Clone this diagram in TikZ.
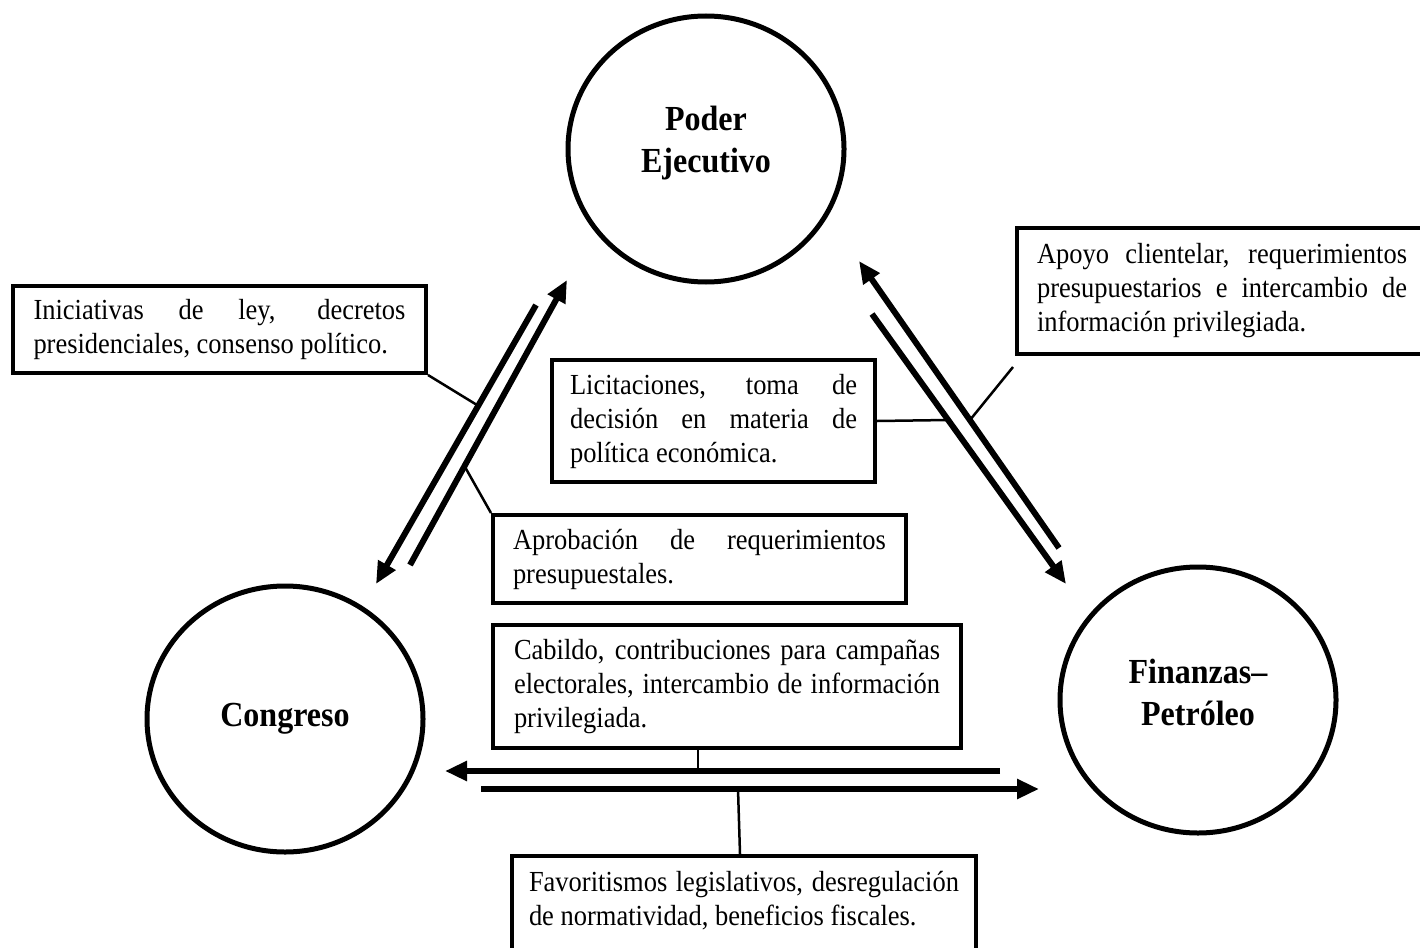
\documentclass[tikz,border=0pt]{standalone}
\usepackage{fontspec}
\setmainfont{Liberation Serif}[FakeStretch=0.91]
\usetikzlibrary{arrows.meta,shapes.geometric,calc}
\newcommand{\bodytext}{\fontsize{29.1}{34}\selectfont\hyphenpenalty 10000 }
\newcommand{\actortext}{\fontsize{35.2}{42}\selectfont\bfseries}
\newcommand{\twolines}[3]{\raisebox{#1}[\height][\depth]{\begin{tabular}{@{}c@{}}#2\\#3\end{tabular}}}
\begin{document}
\begin{tikzpicture}[x=1pt,y=-1pt,
  actor/.style={draw, ellipse, line width=5pt, inner sep=0pt,
    minimum width=276pt, minimum height=266pt, font=\actortext},
  frame/.style={draw, rectangle, line width=4pt, anchor=north west, font=\bodytext},
  note/.style={frame, inner xsep=0pt, align=justify},
  flow/.style={line width=6pt, -{Triangle[length=22pt,width=19pt]}},
  lead/.style={line width=2.5pt}]

% page
\useasboundingbox (0,0) rectangle (1420,947);
\fill[white] (0,0) rectangle (1420,947);

% the three actors
\node[actor] (pe) at (706,149) {\twolines{6pt}{Poder}{Ejecutivo}};
\node[actor] (co) at (285,719) {Congreso};
\node[actor] (fp) at (1198,700) {\twolines{4pt}{Finanzas–}{Petróleo}};

% exchange boxes
\node[note, text width=372pt, minimum width=413pt, minimum height=87pt] (ini) at (11,284)
  {Iniciativas de ley, decretos\linebreak presidenciales, consenso político.};
\node[note, text width=370pt, inner xsep=20pt, minimum height=126pt] (apo) at (1015,226)
  {Apoyo clientelar, requerimientos\linebreak presupuestarios e intercambio de\linebreak información privilegiada.};
\node[note, text width=287pt, minimum width=323pt, minimum height=122pt] (lic) at (550,358)
  {Licitaciones, toma de\linebreak decisión en materia de\linebreak política económica.};
\node[note, text width=373pt, minimum width=413pt, minimum height=88pt] (apr) at (491,513)
  {Aprobación de requerimientos\linebreak presupuestales.};
\node[note, text width=426pt, minimum width=468pt, minimum height=123pt] (cab) at (491,623)
  {Cabildo, contribuciones para campañas\linebreak electorales, intercambio de información\linebreak privilegiada.};
\node[frame, inner ysep=0pt, inner xsep=17pt] (fav) at (510,854)
  {\parbox[t][110pt][t]{430pt}{\vspace{15pt}Favoritismos legislativos, desregulación\linebreak de normatividad, beneficios fiscales.}};

% arrow end points
\coordinate (a1s) at (410,565);  \coordinate (a1e) at (567,280);
\coordinate (a2s) at (536,305);  \coordinate (a2e) at (376,584);
\coordinate (b1s) at (1059,548); \coordinate (b1e) at (859,261);
\coordinate (b2s) at (872,314);  \coordinate (b2e) at (1066,584);
\coordinate (c1s) at (1000,771); \coordinate (c1e) at (445,771);
\coordinate (c2s) at (481,789);  \coordinate (c2e) at (1039,789);

% flows between actors
\draw[flow] (a1s) -- (a1e);
\draw[flow] (a2s) -- (a2e);
\draw[flow] (b1s) -- (b1e);
\draw[flow] (b2s) -- (b2e);
\draw[flow] (c1s) -- (c1e);
\draw[flow] (c2s) -- (c2e);

% leader lines from boxes to flows
\coordinate (l1) at (477,405);
\draw[lead] (ini.south east) -- (l1);
\coordinate (l2) at (465,467);
\draw[lead] (apr.north west) -- (l2);
\coordinate (l3) at (948,420);
\draw[lead] (lic.east) -- (l3);
\coordinate (l4s) at ($(apo.south west)+(-2,11)$);
\coordinate (l4e) at (970,420);
\draw[lead] (l4s) -- (l4e);
\coordinate (l5) at (698,771);
\draw[lead] (cab.south -| l5) -- (l5);
\coordinate (l6) at (738,789);
\draw[lead] ($(fav.north west)+(230,0)$) -- (l6);
\end{tikzpicture}
\end{document}
